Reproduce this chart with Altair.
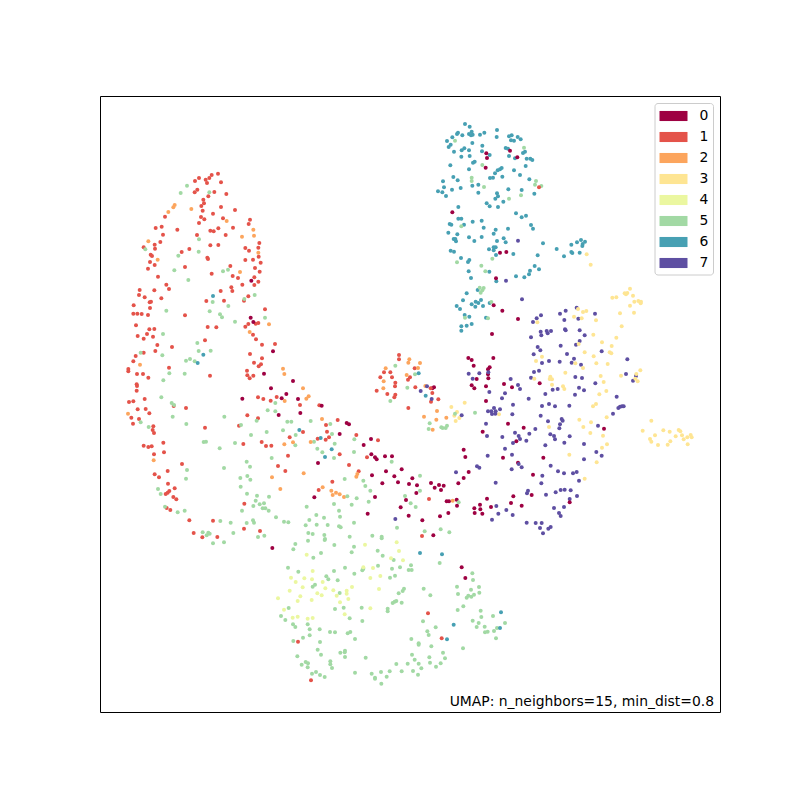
import altair as alt
import pandas as pd

# Readings are taken from enlarged views of the picture: each view has an origin
# and a magnification of 3; values are reduced to picture units when the table is built.
A = (100, 160)
A1 = [(354,41),(335,45),(328,54),(297,54),(317,59),(285,63),(321,69),(363,67),(292,89),(284,97),(343,96),(379,102),(325,109),(310,119),(312,130),(304,138),(363,141),(405,150),(308,152),(339,161),(303,171),(195,170),(313,178),(369,175),(297,189),(450,179),(446,192),(167,204),(185,200),(232,209),(399,203),(355,205),(331,212),(341,214),(189,224),(291,225),(377,225),(181,246),(131,262),(164,254),(165,266),(331,256),(355,255),(268,267),(245,276),(436,264),(478,249),(475,263),(447,272),(476,290),(152,284),(156,288),(322,293),(324,297),(436,300),(459,299),(482,308),(150,306),(164,315),(144,326),(255,321),(391,318),(465,324),(479,335),(335,341),(174,350),(398,348),(414,354),(463,352),(475,365),(463,375),(427,374),(199,374),(119,390),(163,391),(207,387),(394,382),(397,393),(362,393),(117,405),(134,412),(184,415),(445,409),(432,422),(319,423),(372,422),(149,427),(153,425),(101,436),(150,444),(495,448),(100,461),(112,461),(125,462),(144,465),(255,466),(108,496),(445,492),(475,489),(467,491),(436,500),(323,501),(349,502),(148,508),(163,507),(459,524),(141,522),(113,528),(131,536),(159,530),(468,538),(315,541),(172,555),(486,554),(525,552),(216,561)]
A5 = [(261,77),(242,99),(328,97),(297,238),(136,268),(296,275),(235,287),(223,331),(369,334),(384,329),(265,360),(433,417),(464,405),(338,426),(385,438),(199,452),(329,454),(360,463),(366,472),(405,485),(495,473),(189,522),(292,549)]
A2 = [(224,135),(220,142),(205,156),(274,147),(380,183),(460,209),(426,230),(462,227),(145,244),(173,299),(475,278),(420,336),(507,493),(449,516)]
A6 = [(339,408)]
A0 = [(454,362),(460,486),(452,473)]

B = (100, 350)
B1 = [(131,8),(166,3),(107,18),(100,34),(450,12),(486,25),(462,38),(483,43),(476,49),(207,53),(85,57),(85,64),(441,62),(111,72),(129,72),(145,83),(330,77),(442,76),(460,77),(449,85),(110,103),(111,108),(110,122),(134,147),(474,142),(490,147),(512,152),(530,141),(87,156),(100,154),(221,168),(258,174),(600,165),(658,166),(113,178),(137,177),(148,190),(442,196),(94,203),(117,207),(474,205),(99,221),(160,229),(158,240),(162,249),(417,227),(315,233),(609,246),(569,262),(653,266),(485,276),(190,278),(430,282),(498,288),(514,287),(131,287),(145,291),(155,289),(192,307),(162,313),(564,317),(246,342),(534,348),(556,363),(203,363),(164,373),(177,382),(204,401),(224,415),(208,423),(203,428),(197,432),(220,441),(229,448),(656,420),(433,461),(200,474),(211,480),(268,511),(339,512),(432,536),(480,543),(281,549),(352,561),(307,562)]
B5 = [(122,8),(187,16),(296,3),(332,2),(258,32),(270,27),(284,34),(208,70),(254,71),(190,91),(184,142),(215,159),(222,165),(526,159),(503,181),(526,184),(218,200),(373,200),(122,217),(146,231),(259,222),(470,212),(423,225),(562,215),(574,215),(632,213),(549,241),(500,246),(453,255),(587,255),(311,276),(318,275),(405,279),(642,275),(586,286),(359,295),(652,296),(515,324),(440,335),(450,350),(372,354),(261,360),(421,384),(442,378),(451,389),(258,386),(422,410),(174,417),(182,432),(441,431),(471,437),(507,440),(467,452),(492,460),(479,463),(460,468),(620,470),(195,470),(488,475),(496,475),(506,482),(426,482),(254,482),(233,487),(649,495),(528,502),(628,510),(361,513),(392,518),(440,519),(459,511),(462,518),(552,515),(565,517),(617,526),(650,524),(308,547),(320,556),(325,548),(329,551),(400,549),(474,561),(493,557),(625,549),(638,552),(339,580),(372,577)]
B2 = [(120,44),(549,56),(553,72),(84,191),(609,115),(626,139),(619,146),(554,153),(579,277),(632,276),(553,283),(161,331),(516,382),(611,370),(541,417)]
B6 = [(310,14),(293,39),(598,240)]
B0 = [(519,4),(492,71),(579,93),(513,115),(559,132),(427,146),(545,145),(594,147),(601,189),(536,195),(654,339),(643,442)]

C = (420, 110)
C6 = [(135,42),(149,50),(231,60),(114,68),(111,72),(155,65),(147,72),(158,74),(153,76),(180,74),(193,68),(127,76),(230,81),(267,79),(275,76),(293,81),(97,82),(81,93),(273,91),(282,92),(302,88),(157,99),(92,104),(86,111),(187,107),(102,125),(125,121),(133,115),(147,121),(186,124),(257,114),(264,116),(315,125),(309,129),(267,138),(124,140),(149,138),(209,135),(285,145),(320,146),(331,146),(337,150),(164,155),(159,158),(91,166),(317,168),(147,178),(245,174),(240,178),(233,181),(225,190),(282,181),(300,195),(100,201),(113,211),(69,214),(210,204),(219,203),(247,200),(328,208),(157,227),(175,224),(72,232),(122,234),(96,239),(54,244),(67,247),(78,258),(265,238),(305,240),(175,248),(231,250),(343,251),(234,259),(226,266),(250,275),(200,280),(209,289),(234,291),(115,291),(288,310),(318,317),(305,322),(115,326),(124,326),(158,335),(185,332),(89,342),(94,344),(132,344),(333,345),(339,356),(191,353),(227,359),(264,356),(221,371),(85,368),(112,373),(101,387),(106,387),(108,394),(147,382),(185,381),(163,393),(251,385),(231,393),(257,397),(369,400),(483,390),(495,395),(471,397),(454,404),(488,402),(487,408),(410,417),(207,418),(221,412),(227,412),(221,421),(92,422),(102,425),(228,435),(280,432),(454,426),(457,429),(479,428),(432,439),(353,436),(123,444),(148,450),(144,456),(344,468),(357,478),(146,484),(208,485),(330,482),(327,493),(288,499),(313,502),(153,504),(229,514),(173,540),(140,550),(183,570),(129,571),(167,575),(175,579),(155,583),(189,588),(209,579),(110,588),(166,590),(120,597),(148,620),(198,623),(155,642),(124,649),(140,647),(124,662),(134,615)]
C5 = [(105,92),(312,113),(187,165),(155,203),(155,213),(348,213),(345,224),(364,228),(192,231),(303,256),(267,266),(124,349),(217,446),(111,457),(184,467),(196,484),(179,533),(191,534),(187,541),(182,548),(214,576),(135,623),(204,625)]
C0 = [(199,130),(201,144),(270,122),(292,142),(197,173),(97,307),(240,428),(259,426),(228,505),(221,586),(216,672)]
C1 = [(357,232)]
C3 = [(500,433),(512,464)]
C7 = [(294,392)]

D = (500, 280)
D7 = [(18,2),(66,58),(230,83),(197,92),(180,101),(285,101),(123,106),(110,115),(99,126),(193,120),(235,116),(140,153),(153,153),(143,160),(122,155),(124,166),(195,148),(197,151),(239,151),(254,166),(93,172),(239,183),(228,194),(182,197),(113,201),(121,211),(101,223),(201,222),(305,214),(222,236),(147,243),(179,245),(126,249),(215,248),(243,254),(382,238),(117,272),(102,276),(378,282),(408,288),(93,293),(226,291),(246,294),(399,302),(286,310),(237,323),(252,331),(173,327),(158,329),(225,344),(136,342),(350,350),(86,356),(366,379),(371,379),(360,380),(355,384),(126,378),(147,372),(165,379),(208,377),(339,401),(122,407),(185,417),(188,422),(144,424),(180,433),(178,445),(294,437),(106,447),(88,461),(151,463),(162,468),(209,469),(79,482),(165,478),(193,488),(252,492),(136,496),(289,516),(305,527),(252,538),(152,557),(65,562),(174,574),(192,580),(219,580),(230,576),(127,587),(237,602),(124,610),(182,630),(194,629),(212,631),(84,632),(167,637),(81,640),(138,644),(231,648),(209,657),(162,684),(192,681),(177,699),(182,708),(80,728),(107,729),(125,729),(120,744),(145,746),(152,741),(129,760)]
D0 = [(7,92),(54,117),(119,310),(71,443),(312,446),(130,533),(99,584),(95,645),(65,677),(209,667)]
D3 = [(390,26),(374,40),(382,39),(378,43),(399,47),(337,53),(349,52),(403,65),(415,63),(423,65),(422,70),(390,77),(234,87),(249,96),(259,93),(360,100),(402,98),(222,110),(245,115),(288,121),(112,127),(365,139),(280,164),(349,173),(306,187),(236,192),(335,198),(254,217),(329,217),(334,220),(126,230),(281,229),(108,243),(226,250),(289,250),(323,252),(249,264),(421,271),(196,278),(409,282),(363,287),(302,288),(406,296),(151,290),(149,297),(156,298),(103,296),(413,304),(311,306),(156,314),(189,319),(193,327),(319,333),(298,343),(288,372),(279,379),(320,412),(238,419),(273,427),(250,441),(147,441),(454,422),(428,452),(490,451),(536,450),(541,454),(509,455),(465,466),(271,459),(309,467),(546,466),(527,469),(572,465),(562,472),(575,472),(450,477),(454,485),(551,478),(511,484),(474,495),(503,494),(563,493),(321,493),(306,503),(208,524),(290,547),(254,596)]

E = (320, 340)
E0 = [(445,54),(455,60),(520,54),(461,77),(509,82),(504,88),(504,103),(470,117),(505,115),(552,132),(576,142),(455,136),(463,145),(498,139),(498,183),(342,142),(337,145),(5,197),(564,251),(80,249),(87,253),(488,275),(589,304),(59,282),(153,297),(131,315),(431,329),(436,351),(549,353),(154,343),(165,352),(170,358),(195,349),(216,349),(594,368),(245,388),(198,394),(156,406),(223,409),(277,415),(446,396),(431,414),(415,430),(234,427),(187,430),(267,432),(291,436),(333,429),(344,443),(357,435),(371,437),(363,450),(289,459),(165,471),(258,480),(380,484),(387,484),(410,479),(411,497),(501,476),(580,469),(573,489),(480,494),(463,505),(481,508),(464,519),(487,521),(513,501),(385,519),(242,502),(143,521),(266,527),(360,529),(307,541),(340,586)]
E1 = [(237,45),(237,58),(284,85),(192,97),(211,97),(181,112),(216,112),(270,112),(264,119),(226,128),(225,139),(170,152),(202,162),(226,164),(223,172),(286,142),(332,145),(337,159),(355,178),(333,185),(265,204),(53,240),(18,255),(21,275),(27,292),(17,299),(109,285),(174,301),(59,343),(141,352),(87,375),(116,394),(37,425),(327,477),(306,588)]
E2 = [(268,58),(265,68),(300,69),(294,84),(197,85),(191,124),(190,145),(260,105),(316,138),(351,213),(312,230),(349,239),(379,233),(338,269),(6,237),(109,410),(112,402),(8,442),(34,452),(38,465),(48,458),(59,463),(72,471),(398,482)]
E3 = [(394,201),(434,188),(411,216),(403,227),(418,234),(407,243),(537,223)]
E5 = [(226,77),(285,103),(262,143),(211,183),(405,221),(465,218),(31,252),(329,250),(326,267),(364,262),(368,264),(377,264),(381,257),(36,282),(103,298),(44,311),(102,336),(7,337),(42,354),(215,365),(74,417),(300,407),(130,422),(136,438),(151,452),(300,452),(82,469),(110,475),(255,468),(146,485),(272,490),(42,492),(95,494),(287,501),(416,487),(57,512),(60,530),(12,533),(23,555),(57,559),(62,562),(102,548),(231,563),(362,568),(314,574),(388,577),(13,585),(89,590),(157,587),(185,590),(185,595),(15,597)]
E6 = [(296,100),(317,167),(2,294),(35,328),(15,351)]
E7 = [(446,101),(478,100),(505,97),(458,116),(572,117),(321,139),(302,153),(594,135),(600,147),(508,156),(555,160),(546,175),(335,177),(579,194),(504,214),(522,204),(540,208),(514,214),(516,222),(527,214),(526,221),(577,223),(425,226),(498,251),(585,278),(501,288),(547,291),(596,288),(600,297),(579,309),(555,326),(503,347),(576,344),(575,388),(471,379),(478,383),(408,397),(527,428),(529,498),(559,510),(535,521),(578,525),(516,539),(226,537),(596,372)]

F = (260, 510)
F5 = [(144,92),(194,90),(106,102),(223,105),(282,110),(100,118),(275,127),(183,129),(353,122),(368,137),(160,143),(401,150),(453,166),(354,167),(84,173),(255,173),(420,172),(396,176),(446,180),(455,180),(222,183),(115,185),(307,181),(310,176),(283,191),(405,197),(390,203),(199,199),(205,208),(233,211),(165,224),(158,230),(432,236),(428,243),(491,236),(239,249),(416,250),(511,256),(591,230),(633,239),(657,231),(594,252),(658,248),(642,254),(625,257),(634,260),(620,263),(409,273),(404,275),(398,279),(425,278),(86,294),(251,293),(225,297),(305,293),(383,296),(383,304),(593,300),(610,289),(662,302),(664,321),(699,318),(269,325),(63,318),(76,330),(307,333),(489,334),(638,332),(656,339),(143,343),(99,343),(106,351),(527,352),(674,350),(650,351),(149,358),(179,358),(711,354),(702,363),(735,339),(683,365),(675,367),(210,366),(225,367),(271,366),(263,370),(502,364),(506,375),(149,376),(129,383),(285,387),(454,387),(708,385),(100,393),(180,396),(476,400),(476,404),(514,409),(173,419),(255,422),(254,427),(241,428),(609,415),(183,434),(549,428),(112,439),(255,441),(317,443),(456,434),(508,442),(555,445),(464,449),(137,456),(125,464),(144,460),(143,472),(211,454),(211,463),(216,474),(409,462),(443,461),(476,461),(510,458),(542,460),(528,470),(484,475),(168,486),(156,491),(180,495),(194,501),(285,488),(335,491),(345,503),(345,506),(363,486),(389,484),(380,500),(425,484),(459,483),(474,494),(364,521),(539,159),(637,190),(639,210)]
F4 = [(315,104),(410,97),(417,123),(140,134),(393,145),(429,151),(158,183),(339,174),(310,172),(93,203),(133,205),(156,208),(331,204),(361,198),(107,216),(188,216),(128,232),(276,231),(196,235),(89,242),(220,241),(357,237),(172,250),(185,256),(230,257),(260,242),(260,251),(121,259),(54,265),(113,273),(155,270),(265,267),(240,277),(72,299),(331,295),(254,313),(98,323),(113,320),(143,326),(158,324)]
F0 = [(37,114),(605,172),(616,204)]
F1 = [(504,310),(114,395),(545,385),(153,511)]
F6 = [(480,129),(546,133),(723,307),(581,344),(720,354),(561,388)]

GROUPS = [
    (A, "1", A1), (A, "5", A5), (A, "2", A2), (A, "6", A6), (A, "0", A0),
    (B, "1", B1), (B, "5", B5), (B, "2", B2), (B, "6", B6), (B, "0", B0),
    (C, "6", C6), (C, "5", C5), (C, "0", C0), (C, "1", C1), (C, "3", C3), (C, "7", C7),
    (D, "7", D7), (D, "0", D0), (D, "3", D3),
    (E, "0", E0), (E, "1", E1), (E, "2", E2), (E, "3", E3), (E, "5", E5), (E, "6", E6), (E, "7", E7),
    (F, "5", F5), (F, "4", F4), (F, "0", F0), (F, "1", F1), (F, "6", F6),
]
CLASSES = ["0", "1", "2", "3", "4", "5", "6", "7"]
COLORS = ["#9e0142", "#e4534a", "#fca55d", "#fee593", "#ebf7a0", "#a2d9a4", "#47a0b3", "#5e4fa2"]
NOTE = "UMAP: n_neighbors=15, min_dist=0.8"

rows = []
for origin, cls, pts in GROUPS:
    for zx, zy in pts:
        rows.append({"x": origin[0] + zx / 3, "y": origin[1] + zy / 3, "label": cls})
df = pd.DataFrame(rows)

BAR = "M-1,-0.36H1V0.36H-1Z"

points = alt.Chart(df).mark_circle(size=16, opacity=1).encode(
    x=alt.X("x:Q", axis=None, scale=alt.Scale(domain=[100, 720], nice=False, zero=False)),
    y=alt.Y("y:Q", axis=None, scale=alt.Scale(domain=[712, 96], nice=False, zero=False)),
    color=alt.Color(
        "label:N",
        scale=alt.Scale(domain=CLASSES, range=COLORS),
        legend=alt.Legend(
            title=None,
            orient="none",
            legendX=559.5,
            legendY=6,
            padding=0,
            symbolType=BAR,
            symbolSize=784,
            symbolOpacity=1,
            symbolStrokeWidth=0,
            labelFont="DejaVu Sans",
            labelFontSize=13.9,
            labelColor="black",
            labelOffset=12,
            rowPadding=0,
            labelLimit=30,
        ),
    ),
)

# legend panel behind the legend entries
panel = alt.Chart(pd.DataFrame({"p": [0]})).mark_rect(
    fill="white", fillOpacity=0.8, stroke="#cccccc", strokeWidth=1, cornerRadius=3
).encode(x=alt.value(555), x2=alt.value(613.5), y=alt.value(7.5), y2=alt.value(179))

note = alt.Chart(pd.DataFrame({"t": [NOTE]})).mark_text(
    align="right", baseline="middle", font="DejaVu Sans", fontSize=13.9, color="black"
).encode(x=alt.value(614), y=alt.value(605.5), text="t:N")

chart = (
    alt.layer(points, panel, note)
    .properties(width=620, height=616, padding={"left": 92, "top": 88, "right": 10, "bottom": 10})
    .configure_view(stroke="black", strokeWidth=1)
)

chart.save("out.html", embed_options={"renderer": "svg", "actions": False})
